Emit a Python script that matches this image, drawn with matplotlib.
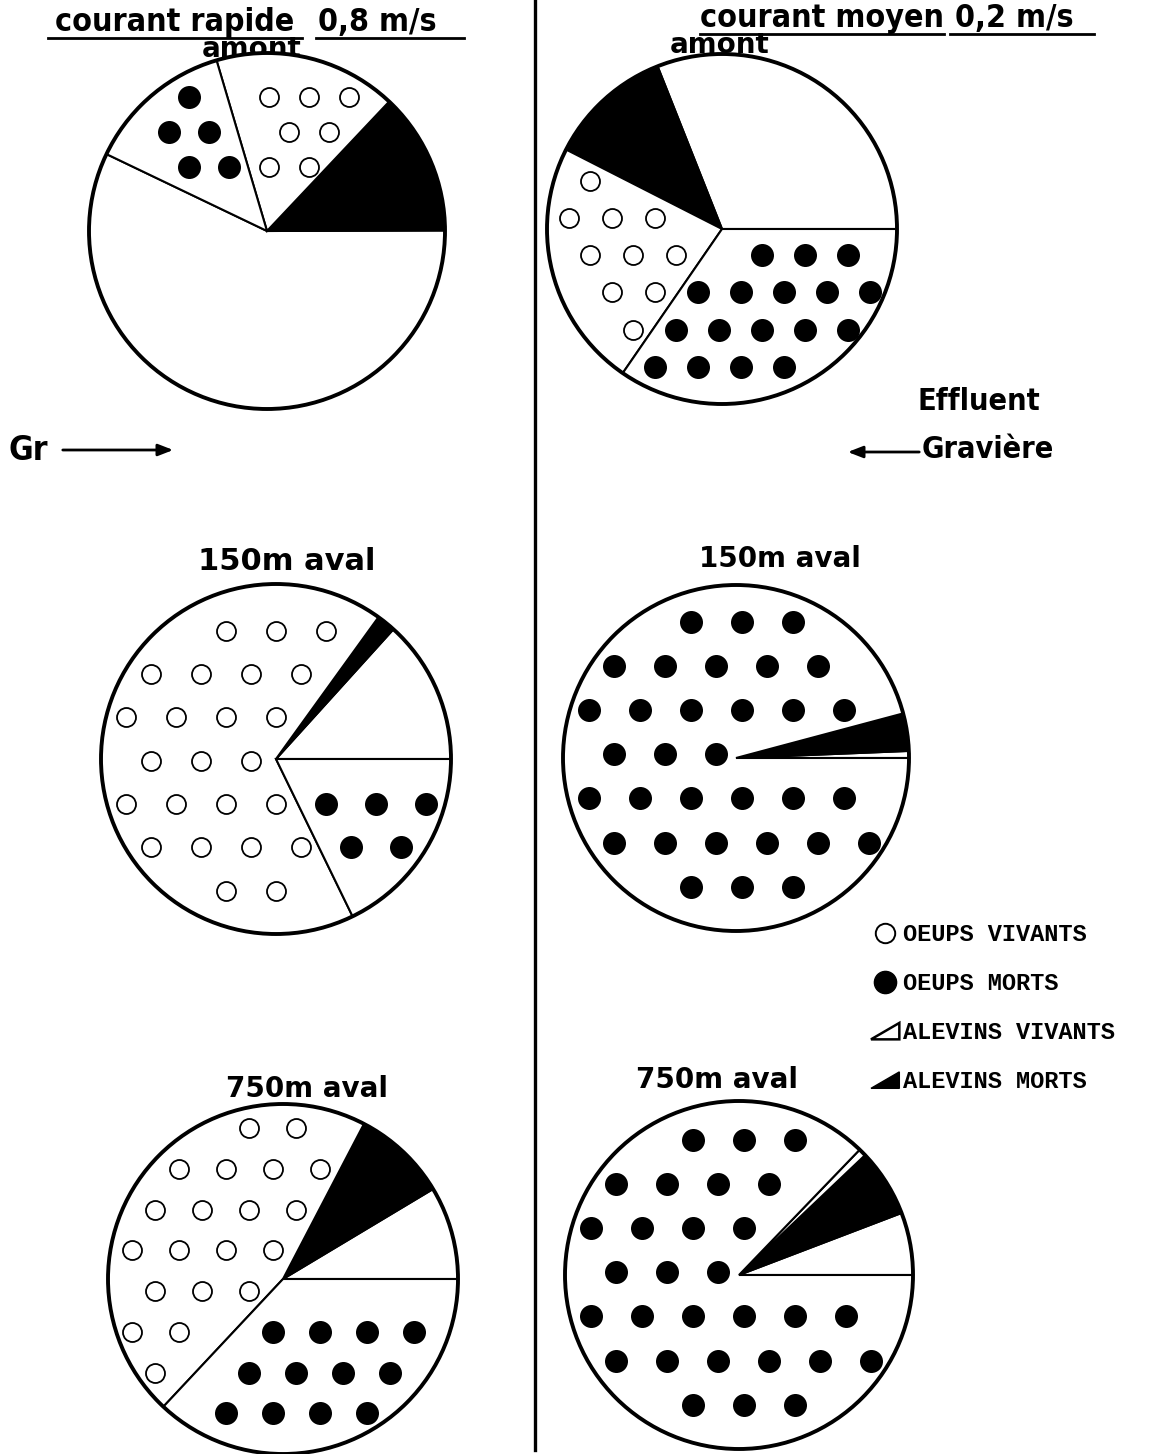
import numpy as np
import matplotlib
matplotlib.use("Agg")
import matplotlib.pyplot as plt
from matplotlib.patches import Polygon, Circle, Patch
from matplotlib.lines import Line2D
from matplotlib.legend_handler import HandlerPatch

W, H, DPI = 1155, 1454, 100

# ---------------- data (percent of total) ----------------
categories = ["ALEVINS VIVANTS", "ALEVINS MORTS", "OEUPS VIVANTS", "OEUPS MORTS"]
legend_order = ["OEUPS VIVANTS", "OEUPS MORTS", "ALEVINS VIVANTS", "ALEVINS MORTS"]

rapide_amont = [57.1, 12.9, 16.6, 13.3]
moyen_amont = [31.0, 11.5, 22.9, 34.6]
rapide_150 = [13.3, 1.75, 67.2, 17.8]
moyen_150 = [0.65, 3.5, 0.0, 95.85]
rapide_750 = [8.6, 8.75, 45.7, 37.0]
moyen_750 = [5.8, 6.3, 0.7, 87.2]

pie_titles = ["amont", "amont", "150m aval", "150m aval", "750m aval", "750m aval"]

# ---------------- layout (pixel positions on the page) ----------------
pies = [
    dict(vals=rapide_amont, cx=267, cy=231, r=178, start=154.4, sp=40),
    dict(vals=moyen_amont, cx=722, cy=229, r=175, start=0.0, sp=43),
    dict(vals=rapide_150, cx=276, cy=759, r=175, start=0.0, sp=50),
    dict(vals=moyen_150, cx=736, cy=758, r=173, start=0.0, sp=51),
    dict(vals=rapide_750, cx=283, cy=1279, r=175, start=0.0, sp=47),
    dict(vals=moyen_750, cx=739, cy=1275, r=174, start=0.0, sp=51),
]
title_pos = [(252, 57, 20), (720, 53, 20), (287, 570, 22), (780, 567, 20), (307, 1097, 20), (717, 1088, 20)]

styles = {
    "ALEVINS VIVANTS": dict(face="white", tex=None),
    "ALEVINS MORTS": dict(face="black", tex=None),
    "OEUPS VIVANTS": dict(face="white", tex="hollow"),
    "OEUPS MORTS": dict(face="white", tex="filled"),
}

DOT_FILLED = 23.0  # px diameter
DOT_HOLLOW = 19.0
MARGIN = 13.0

fig = plt.figure(figsize=(W / DPI, H / DPI), dpi=DPI)
fig.patch.set_facecolor("white")

ov = fig.add_axes([0, 0, 1, 1])
ov.set_xlim(0, W)
ov.set_ylim(H, 0)
ov.axis("off")


def texture(ax, wedge, r_px, kind, spacing):
    t1, t2 = wedge.theta1, wedge.theta2
    span = t2 - t1
    if span <= 0.5:
        return
    step = spacing / r_px
    rows = np.arange(-1.0, 1.0 + 1e-9, step * np.sqrt(3) / 2)
    xs, ys = [], []
    for i, yy in enumerate(rows):
        x = np.arange(-1.0, 1.0 + 1e-9, step) + (step / 2 if i % 2 else 0.0)
        xs.append(x)
        ys.append(np.full_like(x, yy))
    x = np.concatenate(xs)
    y = np.concatenate(ys)
    rr = np.hypot(x, y)
    ang = np.degrees(np.arctan2(y, x))
    d1 = (ang - t1) % 360
    d2 = span - d1
    m = MARGIN / r_px
    inside = (d1 <= span) & (rr <= 1 - m)
    dist1 = np.where(d1 < 90, rr * np.sin(np.radians(np.clip(d1, 0, 90))), rr)
    dist2 = np.where(d2 < 90, rr * np.sin(np.radians(np.clip(d2, 0, 90))), rr)
    keep = inside & (dist1 >= m) & (dist2 >= m)
    if kind == "filled":
        d = DOT_FILLED * 72 / DPI
        ax.scatter(x[keep], y[keep], s=d ** 2, marker="o", facecolor="black",
                   edgecolor="black", linewidths=0, zorder=3)
    else:
        d = DOT_HOLLOW * 72 / DPI
        ax.scatter(x[keep], y[keep], s=d ** 2, marker="o", facecolor="white",
                   edgecolor="black", linewidths=1.3, zorder=3)


for p in pies:
    cx, cy, r = p["cx"], p["cy"], p["r"]
    f = 1.06
    ax = fig.add_axes([(cx - f * r) / W, 1 - (cy + f * r) / H, 2 * f * r / W, 2 * f * r / H])
    wedges, _ = ax.pie(p["vals"], startangle=p["start"], counterclock=True,
                       colors=[styles[c]["face"] for c in categories],
                       wedgeprops=dict(edgecolor="black", linewidth=1.5))
    ax.add_patch(Circle((0, 0), 1.0, fill=False, edgecolor="black", linewidth=2.8, zorder=4))
    for w, c in zip(wedges, categories):
        if styles[c]["tex"]:
            texture(ax, w, r, styles[c]["tex"], p["sp"])
    ax.set_xlim(-f, f)
    ax.set_ylim(-f, f)
    ax.set_aspect("equal")
    ax.axis("off")

# ---------------- texts ----------------
tfont = dict(family="DejaVu Sans", fontweight="bold", color="black")
cfont = dict(family="DejaVu Sans", fontweight="bold", fontstretch="condensed", color="black")
for (x, y, fs), t in zip(title_pos, pie_titles):
    ov.text(x, y, t, ha="center", va="baseline", fontsize=fs, **tfont)

ov.text(55, 31, "courant rapide", ha="left", va="baseline", fontsize=23, **cfont)
ov.text(318, 31, "0,8 m/s", ha="left", va="baseline", fontsize=23, **cfont)
ov.text(700, 27, "courant moyen", ha="left", va="baseline", fontsize=23, **cfont)
ov.text(955, 27, "0,2 m/s", ha="left", va="baseline", fontsize=23, **cfont)
ov.plot([48, 302], [38, 38], color="black", lw=2)
ov.plot([316, 464], [38, 38], color="black", lw=2)
ov.plot([700, 944], [34, 34], color="black", lw=2)
ov.plot([950, 1094], [34, 34], color="black", lw=2)

# central divider
ov.plot([535, 535], [0, 1450], color="black", lw=2.4)

ov.text(8, 460, "Gr", ha="left", va="baseline", fontsize=24, **cfont)
ov.annotate("", xy=(176, 450), xytext=(60, 450),
            arrowprops=dict(arrowstyle="-|>,head_length=0.9,head_width=0.35", color="black", lw=2))
ov.text(918, 410, "Effluent", ha="left", va="baseline", fontsize=22, **cfont)
ov.text(922, 458, "Gravière", ha="left", va="baseline", fontsize=22, **cfont)
ov.annotate("", xy=(845, 452), xytext=(922, 452),
            arrowprops=dict(arrowstyle="-|>,head_length=0.9,head_width=0.35", color="black", lw=2))

# ---------------- legend ----------------
def tri_patch(legend, orig_handle, xdescent, ydescent, width, height, fontsize):
    x0, y0 = -xdescent, -ydescent
    return Polygon([[x0, y0], [x0 + width, y0 + height * 0.95], [x0 + width, y0]], closed=True)

handles_map = {
    "OEUPS VIVANTS": Line2D([], [], ls="none", marker="o", ms=14, mfc="white", mec="black", mew=1.4),
    "OEUPS MORTS": Line2D([], [], ls="none", marker="o", ms=16, mfc="black", mec="black"),
    "ALEVINS VIVANTS": Patch(facecolor="white", edgecolor="black", linewidth=1.8),
    "ALEVINS MORTS": Patch(facecolor="black", edgecolor="black", linewidth=1),
}
handles = [handles_map[c] for c in legend_order]
leg = fig.legend(handles, legend_order, loc="upper left",
                 bbox_to_anchor=(871 / W, 1 - 923 / H), frameon=False,
                 borderpad=0, borderaxespad=0, handlelength=1.2, handleheight=0.75,
                 handletextpad=0.15, labelspacing=1.1,
                 prop=dict(family="Liberation Mono", weight="bold", size=17),
                 handler_map={Patch: HandlerPatch(patch_func=tri_patch)})

fig.savefig("out.png", dpi=DPI, facecolor="white")
